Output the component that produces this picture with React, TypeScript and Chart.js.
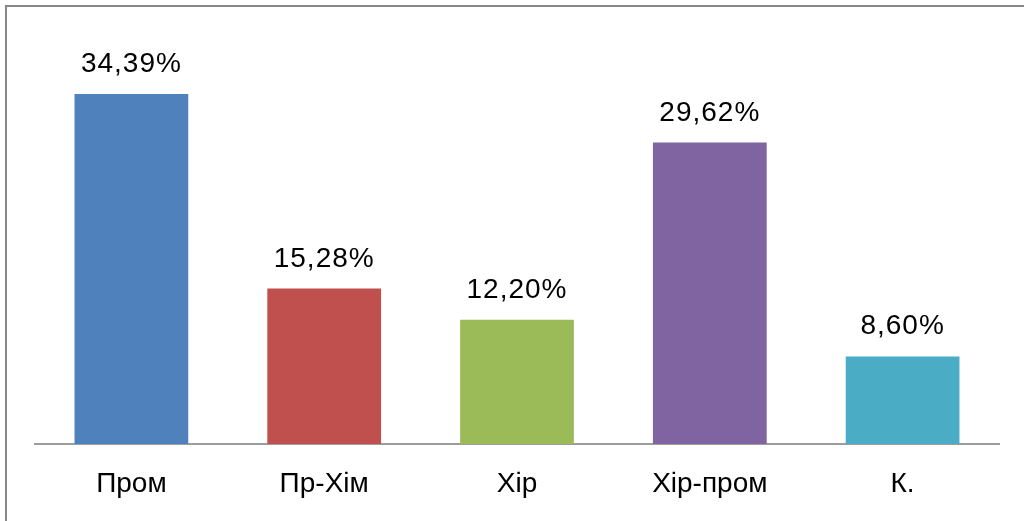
import React, { useEffect, useRef } from "react";
import { Chart, registerables } from "chart.js";

Chart.register(...registerables);

const categories = ["Пром", "Пр-Хім", "Хір", "Хір-пром", "К."];
const values = [34.39, 15.28, 12.2, 29.62, 8.6];
const labels = ["34,39%", "15,28%", "12,20%", "29,62%", "8,60%"];
const colors = ["#4F81BD", "#C0504D", "#9BBB59", "#8064A2", "#4BACC6"];

const FONT = "'Liberation Sans', Arial, sans-serif";

const valueLabelPlugin = {
  id: "valueLabels",
  afterDatasetsDraw(chart: any) {
    const ctx = chart.ctx;
    const meta = chart.getDatasetMeta(0);
    ctx.save();
    ctx.font = `28px ${FONT}`;
    try {
      (ctx as any).letterSpacing = "1px";
    } catch (e) {}
    ctx.fillStyle = "#000";
    ctx.textAlign = "center";
    ctx.textBaseline = "alphabetic";
    meta.data.forEach((bar: any, i: number) => {
      ctx.fillText(labels[i], bar.x, bar.y - 22);
    });
    ctx.restore();
  },
};

export default function App() {
  const ref = useRef<HTMLCanvasElement>(null);
  useEffect(() => {
    if (!ref.current) return;
    const chart = new Chart(ref.current, {
      type: "bar",
      data: {
        labels: categories,
        datasets: [
          {
            data: values,
            backgroundColor: colors,
            borderWidth: 0,
            categoryPercentage: 1,
            barPercentage: 0.59,
          },
        ],
      },
      options: {
        animation: false,
        responsive: false,
        maintainAspectRatio: false,
        layout: { padding: { left: 35, right: 25, top: 37, bottom: 0 } },
        plugins: {
          legend: { display: false },
          tooltip: { enabled: false },
        },
        scales: {
          x: {
            grid: { display: false, drawTicks: false },
            border: { display: true, color: "#9d9d9d", width: 2 },
            ticks: {
              color: "#000",
              font: { family: FONT, size: 28 },
              padding: 23,
            },
            afterFit: (scale: any) => {
              scale.height = 77;
            },
          },
          y: {
            display: false,
            min: 0,
            max: 40,
          },
        },
      },
      plugins: [valueLabelPlugin],
    });
    return () => chart.destroy();
  }, []);
  return (
    <div
      style={{
        position: "absolute",
        left: 0,
        top: 0,
        width: 1024,
        height: 521,
        overflow: "hidden",
        background: "#fff",
      }}
    >
      <canvas ref={ref} width={1024} height={521} style={{ position: "absolute", left: 0, top: 0 }} />
      <div
        style={{
          position: "absolute",
          left: 5,
          top: 5,
          width: 1100,
          height: 600,
          border: "2px solid #888",
          pointerEvents: "none",
        }}
      />
    </div>
  );
}
